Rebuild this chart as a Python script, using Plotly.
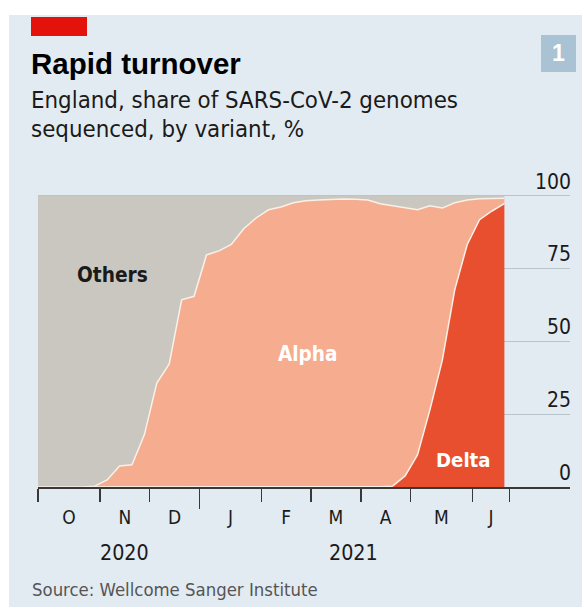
import pandas as pd
import plotly.graph_objects as go

# ---------------- data ----------------
dates = pd.date_range("2020-09-30", periods=39, freq="7D")  # weekly samples (Wednesdays)

delta = [0, 0, 0, 0, 0, 0, 0, 0, 0, 0,
         0, 0, 0, 0, 0, 0, 0, 0, 0, 0,
         0, 0, 0, 0, 0, 0, 0, 0, 0.1, 0.3,
         3.8, 11.0, 26.5, 43.6, 67.7, 83.2, 91.8, 94.8, 97.3]

alpha = [0, 0, 0, 0, 0, 0.3, 2.4, 7.2, 7.6, 18.0,
         35.7, 42.3, 64.3, 65.5, 79.7, 81.1, 83.3, 88.7, 92.4, 95.2,
         96.2, 97.6, 98.3, 98.6, 98.8, 98.9, 98.8, 98.6, 97.2, 96.3,
         92.2, 84.2, 70.1, 52.2, 29.9, 15.4, 7.2, 4.3, 1.9]

others = [100, 100, 100, 100, 100, 99.7, 97.6, 92.8, 92.4, 82.0,
          64.3, 57.7, 35.7, 34.5, 20.3, 18.9, 16.7, 11.3, 7.6, 4.8,
          3.8, 2.4, 1.7, 1.4, 1.2, 1.1, 1.2, 1.4, 2.7, 3.4,
          4.0, 4.8, 3.4, 4.2, 2.4, 1.4, 1.0, 0.9, 0.8]

month_bounds = ["2020-10-03", "2020-11-07", "2020-12-05", "2021-01-02", "2021-02-06",
                "2021-03-06", "2021-04-03", "2021-05-01", "2021-06-05", "2021-06-26"]
month_labels = ["O", "N", "D", "J", "F", "M", "A", "M", "J"]
year_break = ["2021-01-02"]
year_labels = ["2020", "2021"]
year_positions = ["2020-11-21", "2021-03-30"]
y_ticks = [0, 25, 50, 75, 100]

# ---------------- styling ----------------
W, H = 582, 609
Y_MAX = 113
ML, MR = 38, 12
MB = H - 487
PH_DATA = 291                      # pixels for 0..100
MT = round(487 - PH_DATA * Y_MAX / 100)
PW, PH = W - ML - MR, H - MT - MB
NARROW = "DejaVu Sans Condensed, Liberation Sans Narrow, sans-serif"
WIDE = "Liberation Sans, Arial, sans-serif"
BG = "#e2ebf2"
TXT = "#1a1a1a"
AX = "#383838"


def fx(px):
    return (px - ML) / PW


def fy(py):
    return (H - MB - py) / PH


bounds = pd.to_datetime(month_bounds)
mids = [bounds[i] + (bounds[i + 1] - bounds[i]) / 2 for i in range(len(month_labels))]
minor_ticks = [d for d in month_bounds if d not in year_break]

fig = go.Figure()
line_col = "#f8f1e9"
fig.add_trace(go.Scatter(x=dates, y=delta, stackgroup="v", mode="lines",
                         line=dict(color=line_col, width=1.5), fillcolor="#e84f2f",
                         name="Delta", hoverinfo="skip"))
fig.add_trace(go.Scatter(x=dates, y=alpha, stackgroup="v", mode="lines",
                         line=dict(color=line_col, width=1.5), fillcolor="#f5ac8f",
                         name="Alpha", hoverinfo="skip"))
fig.add_trace(go.Scatter(x=dates, y=others, stackgroup="v", mode="lines",
                         line=dict(color="#c9c7c0", width=0), fillcolor="#c9c7c0",
                         name="Others", hoverinfo="skip"))

xr = ["2020-10-03", "2021-07-30"]
fig.update_layout(
    width=W, height=H, autosize=False,
    margin=dict(l=ML, r=MR, t=MT, b=MB, pad=0),
    paper_bgcolor="white", plot_bgcolor="rgba(0,0,0,0)",
    showlegend=False,
    xaxis=dict(type="date", range=xr, tickvals=minor_ticks, ticks="outside",
               ticklen=13, tickwidth=1.5, tickcolor=AX, showticklabels=False,
               showline=True, linecolor=AX, linewidth=2, showgrid=False,
               zeroline=False, fixedrange=True),
    xaxis2=dict(type="date", range=xr, overlaying="x", anchor="y", side="bottom",
                tickvals=year_break, ticks="outside", ticklen=21, tickwidth=1.5,
                tickcolor=AX, showticklabels=False, showline=False, showgrid=False,
                zeroline=False),
    xaxis3=dict(type="date", range=xr, overlaying="x", anchor="y", side="bottom",
                tickvals=mids, ticktext=month_labels, ticks="outside", ticklen=13,
                tickcolor="rgba(0,0,0,0)", showline=False, showgrid=False,
                zeroline=False, tickfont=dict(family=NARROW, size=19, color=TXT)),
    yaxis=dict(range=[0, Y_MAX], side="right", tickvals=y_ticks, ticks="",
               ticklabelposition="inside top", ticklabelstandoff=-4,
               showgrid=True, gridcolor="#b9c3ca",
               gridwidth=1, zeroline=False, showline=False,
               tickfont=dict(family=NARROW, size=21, color=TXT)),
)

# invisible traces so the overlay axes are drawn
for ax in ["x2", "x3"]:
    fig.add_trace(go.Scatter(x=[xr[0]], y=[0], xaxis=ax, yaxis="y", mode="markers",
                             marker=dict(opacity=0), showlegend=False, hoverinfo="skip"))

shapes = [
    dict(type="rect", xref="paper", yref="paper", x0=fx(9), x1=fx(582), y0=fy(607), y1=fy(15),
         fillcolor=BG, line=dict(width=0), layer="below"),
    dict(type="rect", xref="paper", yref="paper", x0=fx(31), x1=fx(87), y0=fy(36), y1=fy(17),
         fillcolor="#e3120b", line=dict(width=0), layer="above"),
    dict(type="rect", xref="paper", yref="paper", x0=fx(541), x1=fx(576), y0=fy(72), y1=fy(35),
         fillcolor="#a9c2d4", line=dict(width=0), layer="above"),
]
fig.update_layout(shapes=shapes)

ann = []
ann.append(dict(text="<b>Rapid turnover</b>", x=fx(29), y=fy(63), xanchor="left", yanchor="middle",
                font=dict(family=WIDE, size=29.5, color="black")))
ann.append(dict(text="England, share of SARS-CoV-2 genomes", x=fx(29), y=fy(100), xanchor="left",
                yanchor="middle", font=dict(family=NARROW, size=23.8, color=TXT)))
ann.append(dict(text="sequenced, by variant, %", x=fx(29), y=fy(129), xanchor="left",
                yanchor="middle", font=dict(family=NARROW, size=23.8, color=TXT)))
ann.append(dict(text="<b>1</b>", x=fx(558.5), y=fy(53.5), xanchor="center", yanchor="middle",
                font=dict(family=WIDE, size=23, color="white")))
ann.append(dict(text="Source: Wellcome Sanger Institute", x=fx(30), y=fy(589), xanchor="left",
                yanchor="middle", font=dict(family=NARROW, size=18.4, color="#555555")))
for lab, pos in zip(year_labels, year_positions):
    ann.append(dict(text=lab, x=pos, xref="x", y=fy(552.5), xanchor="center", yanchor="middle",
                    font=dict(family=NARROW, size=21.3, color=TXT)))
# series labels
ann.append(dict(text="<b>Others</b>", x="2020-11-14", xref="x", y=72.9, yref="y",
                xanchor="center", yanchor="middle", font=dict(family=NARROW, size=20.7, color=TXT)))
ann.append(dict(text="<b>Alpha</b>", x="2021-03-04", xref="x", y=45.7, yref="y",
                xanchor="center", yanchor="middle", font=dict(family=NARROW, size=20.5, color="white")))
ann.append(dict(text="<b>Delta</b>", x="2021-05-31", xref="x", y=9.3, yref="y",
                xanchor="center", yanchor="middle", font=dict(family=NARROW, size=20.2, color="white")))
for a in ann:
    a.setdefault("xref", "paper")
    a.setdefault("yref", "paper")
    a["showarrow"] = False
fig.update_layout(annotations=ann)

fig.write_html("out.html", config={"staticPlot": True},
               post_script="document.body.style.margin='0';document.body.style.overflow='hidden';")
